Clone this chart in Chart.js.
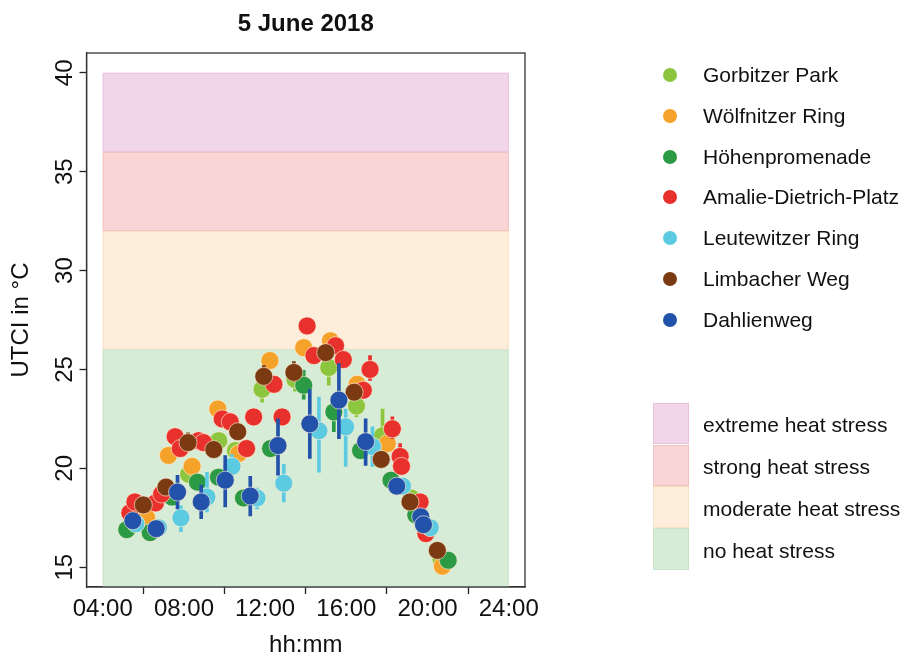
<!DOCTYPE html>
<html>
<head>
<meta charset="utf-8">
<title>UTCI 5 June 2018</title>
<script src="https://cdn.jsdelivr.net/npm/chart.js@4/dist/chart.umd.min.js"></script>
<style>
  html, body { margin: 0; padding: 0; background: #ffffff; }
  #wrap { position: relative; width: 909px; height: 660px; font-family: "Liberation Sans", Arial, Helvetica, sans-serif; color: #111; }
  #c { position: absolute; left: 0; top: 0; }
  .item { position: absolute; height: 24px; line-height: 24px; font-size: 21px; white-space: nowrap; }
  .dot { position: absolute; width: 14px; height: 14px; border-radius: 50%; }
  .swatch { position: absolute; box-sizing: border-box; }
</style>
</head>
<body>
<div id="wrap">
  <canvas id="c" width="909" height="660"></canvas>
  <div id="legend"></div>
</div>
<script>
// ---- data -------------------------------------------------------------
const chartTitle = '5 June 2018';
const xAxisTitle = 'hh:mm';
const yAxisTitle = 'UTCI in °C';

const xTickHours = [4, 8, 12, 16, 20, 24];
const xTickLabels = ['04:00', '08:00', '12:00', '16:00', '20:00', '24:00'];
const yTickValues = [15, 20, 25, 30, 35, 40];

// heat stress classes (UTCI thresholds)
const stressNames = ['extreme heat stress', 'strong heat stress', 'moderate heat stress', 'no heat stress'];
const stressLower = [36, 32, 26, 14];
const stressUpper = [40, 36, 32, 26];

const seriesNames = ['Gorbitzer Park', 'Wölfnitzer Ring', 'Höhenpromenade', 'Amalie-Dietrich-Platz',
                     'Leutewitzer Ring', 'Limbacher Weg', 'Dahlienweg'];

const gorbitzerTimes = ['05:15', '06:22', '07:18', '08:14', '09:43', '10:32', '11:51', '13:28', '15:08', '16:30', '17:47', '19:12', '20:40'];
const gorbitzerUTCI  = [16.95, 17.1, 18.7, 19.7, 21.4, 20.9, 24.0, 24.5, 25.1, 23.15, 21.65, 18.5, 15.4];
const gorbitzerLow   = [null, null, null, null, null, null, 23.35, 23.9, 24.2, 22.6, 21.2, null, null];
const gorbitzerHigh  = [null, null, null, null, null, null, 24.4, 25.0, 25.6, 23.6, 23.0, null, null];

const woelfnitzTimes = ['06:10', '07:14', '08:24', '09:40', '10:42', '12:14', '13:54', '15:13', '16:32', '18:01', '20:44'];
const woelfnitzUTCI  = [17.5, 20.65, 20.1, 23.0, 20.75, 25.45, 26.1, 26.45, 24.25, 21.25, 15.05];
const woelfnitzLow   = [null, null, null, null, null, null, null, null, null, null, null];
const woelfnitzHigh  = [null, null, null, null, null, null, null, null, null, null, null];

const hoehenTimes = ['05:11', '06:20', '07:25', '08:40', '09:42', '10:56', '12:16', '13:54', '15:23', '16:42', '18:12', '19:25', '21:01'];
const hoehenUTCI  = [16.9, 16.75, 18.55, 19.3, 19.55, 18.5, 21.0, 24.2, 22.85, 20.9, 19.4, 17.65, 15.35];
const hoehenLow   = [null, null, null, null, null, null, null, 23.5, 21.85, null, null, null, null];
const hoehenHigh  = [null, null, null, null, null, null, null, 24.95, 23.2, null, null, null, null];

const amalieTimes = ['05:20', '05:35', '06:36', '06:54', '07:34', '07:49', '08:43', '08:58', '09:53', '10:17', '11:05', '11:26', '12:26',
                     '12:50', '14:04', '14:24', '15:28', '15:51', '16:50', '17:10', '18:16', '18:39', '18:43', '19:38', '19:55'];
const amalieUTCI  = [17.75, 18.3, 18.25, 18.7, 21.6, 21.0, 21.4, 21.3, 22.5, 22.35, 21.0, 22.6, 24.25,
                     22.6, 27.2, 25.7, 26.2, 25.5, 23.95, 25.0, 22.0, 20.6, 20.1, 18.3, 16.7];
const amalieLow   = [null, null, null, null, null, null, null, null, null, null, null, null, null,
                     null, null, null, null, null, null, 24.45, 21.5, 20.1, null, null, null];
const amalieHigh  = [null, null, null, null, null, null, null, null, null, null, null, null, null,
                     null, null, null, null, null, null, 25.7, 22.6, 21.25, null, null, null];

const leutewitzTimes = ['05:38', '06:45', '07:51', '09:08', '10:22', '11:36', '12:55', '14:39', '15:58', '17:17', '18:46', '20:08'];
const leutewitzUTCI  = [17.2, 17.0, 17.5, 18.55, 20.1, 18.5, 19.25, 21.9, 22.1, 21.1, 19.1, 17.0];
const leutewitzLow   = [null, null, 16.8, 17.8, 19.6, 17.95, 18.3, 19.8, 20.1, 20.1, null, null];
const leutewitzHigh  = [null, null, 18.1, 19.8, 20.7, 19.0, 20.2, 23.6, 23.0, 22.1, null, null];

const limbachTimes = ['06:00', '07:07', '08:12', '09:28', '10:39', '11:56', '13:25', '14:59', '16:23', '17:43', '19:08', '20:29'];
const limbachUTCI  = [18.15, 19.05, 21.3, 20.95, 21.85, 24.65, 24.85, 25.85, 23.85, 20.45, 18.3, 15.85];
const limbachLow   = [null, null, 21.0, null, null, 24.2, 24.4, null, null, null, null, null];
const limbachHigh  = [null, null, 21.8, null, null, 25.2, 25.4, null, null, null, null, null];

const dahlienTimes = ['05:29', '06:38', '07:41', '08:51', '10:02', '11:16', '12:38', '14:12', '15:38', '16:57', '18:29', '19:40', '19:48'];
const dahlienUTCI  = [17.35, 16.95, 18.8, 18.3, 19.4, 18.6, 21.15, 22.25, 23.45, 21.35, 19.1, 17.55, 17.15];
const dahlienLow   = [null, null, 17.95, 17.45, 18.05, 17.6, 19.65, 20.5, 21.5, 20.15, null, null, null];
const dahlienHigh  = [null, null, 19.65, 19.15, 20.65, 19.6, 22.5, 24.0, 25.3, 22.5, null, null, null];

// ---- styling ----------------------------------------------------------
const FONT = '"Liberation Sans", Arial, Helvetica, sans-serif';
const seriesColors = ['#8cc63e', '#f5a22a', '#2b9a45', '#e8312c', '#5ccbe2', '#7b3a12', '#2352aa'];
const stressColors = ['#f1d6ea', '#f9d5d6', '#fdeedb', '#d6ecd7'];
const stressEdges  = ['#e7c1dc', '#f1c0c2', '#f7e0c4', '#c9e3cb'];

const seriesTable = [
  [gorbitzerTimes, gorbitzerUTCI, gorbitzerLow, gorbitzerHigh],
  [woelfnitzTimes, woelfnitzUTCI, woelfnitzLow, woelfnitzHigh],
  [hoehenTimes, hoehenUTCI, hoehenLow, hoehenHigh],
  [amalieTimes, amalieUTCI, amalieLow, amalieHigh],
  [leutewitzTimes, leutewitzUTCI, leutewitzLow, leutewitzHigh],
  [limbachTimes, limbachUTCI, limbachLow, limbachHigh],
  [dahlienTimes, dahlienUTCI, dahlienLow, dahlienHigh]
];

const toHours = t => { const p = t.split(':'); return Number(p[0]) + Number(p[1]) / 60; };

// each station: error bars first, then its points on top; later stations overlay earlier ones
const datasets = [];
seriesTable.forEach(([times, vals, lo, hi], i) => {
  const bars = [];
  times.forEach((t, k) => {
    if (lo[k] !== null && hi[k] !== null) bars.push({ x: toHours(t), y: [lo[k], hi[k]] });
  });
  if (bars.length) {
    datasets.push({
      type: 'bar',
      label: seriesNames[i] + ' range',
      data: bars,
      backgroundColor: seriesColors[i],
      borderWidth: 0,
      barThickness: 3,
      grouped: false,
      order: 100 - 2 * i
    });
  }
  datasets.push({
    type: 'scatter',
    label: seriesNames[i],
    data: times.map((t, k) => ({ x: toHours(t), y: vals[k] })),
    backgroundColor: seriesColors[i],
    pointBackgroundColor: seriesColors[i],
    pointBorderColor: 'rgba(255, 240, 212, 0.8)',
    pointBorderWidth: 0.8,
    pointRadius: 9,
    pointHoverRadius: 9,
    showLine: false,
    order: 99 - 2 * i
  });
});

// heat stress bands, plot frame and the texts drawn around the panel
const panelDecor = {
  id: 'panelDecor',
  beforeDatasetsDraw(chart) {
    const { ctx, chartArea: a, scales: { x, y } } = chart;
    ctx.save();
    ctx.beginPath();
    ctx.rect(a.left, a.top, a.right - a.left, a.bottom - a.top);
    ctx.clip();
    const x0 = x.getPixelForValue(xTickHours[0]);
    const x1 = x.getPixelForValue(xTickHours[xTickHours.length - 1]);
    stressNames.forEach((n, i) => {
      const yt = y.getPixelForValue(stressUpper[i]);
      const yb = y.getPixelForValue(stressLower[i]);
      ctx.fillStyle = stressColors[i];
      ctx.fillRect(x0, yt, x1 - x0, yb - yt);
      ctx.strokeStyle = stressEdges[i];
      ctx.lineWidth = 1;
      ctx.strokeRect(x0 + 0.5, yt + 0.5, x1 - x0 - 1, yb - yt - 1);
    });
    ctx.restore();

    ctx.save();
    ctx.strokeStyle = '#333';
    ctx.lineWidth = 1.3;
    ctx.strokeRect(a.left, a.top, a.right - a.left, a.bottom - a.top);
    ctx.restore();
  },
  afterDraw(chart) {
    const { ctx, chartArea: a, scales: { y } } = chart;
    ctx.save();
    ctx.fillStyle = '#111';
    // y tick labels, rotated like the axis title
    ctx.font = '24px ' + FONT;
    ctx.textAlign = 'center';
    ctx.textBaseline = 'middle';
    yTickValues.forEach(v => {
      ctx.save();
      ctx.translate(65, y.getPixelForValue(v));
      ctx.rotate(-Math.PI / 2);
      ctx.fillText(String(v), 0, 0);
      ctx.restore();
    });
    // y axis title
    ctx.save();
    ctx.translate(21, (a.top + a.bottom) / 2);
    ctx.rotate(-Math.PI / 2);
    ctx.fillText(yAxisTitle, 0, 0);
    ctx.restore();
    // chart title
    ctx.font = 'bold 24px ' + FONT;
    ctx.textBaseline = 'alphabetic';
    ctx.fillText(chartTitle, (a.left + a.right) / 2, 30.5);
    ctx.restore();
  }
};

new Chart(document.getElementById('c'), {
  type: 'scatter',
  data: { datasets },
  options: {
    responsive: false,
    animation: false,
    events: [],
    layout: { padding: { left: 79.5, right: 384, top: 53, bottom: 0.4 } },
    plugins: { legend: { display: false }, tooltip: { enabled: false }, title: { display: false } },
    scales: {
      x: {
        type: 'linear',
        position: 'bottom',
        min: 3.2,
        max: 24.8,
        offset: false,
        afterBuildTicks: s => { s.ticks = xTickHours.map(v => ({ value: v })); },
        ticks: {
          autoSkip: false, maxRotation: 0, minRotation: 0, padding: 1,
          color: '#111', font: { family: FONT, size: 24 },
          callback: (v, i) => xTickLabels[i]
        },
        grid: { display: true, drawOnChartArea: false, drawTicks: true, tickLength: 7, tickColor: '#222', tickWidth: 1.3 },
        border: { display: true, color: '#333', width: 1.3 },
        title: { display: true, text: xAxisTitle, color: '#111', font: { family: FONT, size: 24 }, padding: { top: 6, bottom: 0 } }
      },
      y: {
        type: 'linear',
        position: 'left',
        min: 14,
        max: 41,
        afterBuildTicks: s => { s.ticks = yTickValues.map(v => ({ value: v })); },
        ticks: { display: false },
        grid: { display: true, drawOnChartArea: false, drawTicks: true, tickLength: 7, tickColor: '#222', tickWidth: 1.3 },
        border: { display: true, color: '#333', width: 1.3 }
      }
    }
  },
  plugins: [panelDecor]
});

// ---- legends ------------------------------------------------------------
const legend = document.getElementById('legend');
const seriesRowY = 75, seriesRowStep = 40.8;
seriesNames.forEach((name, i) => {
  const cy = seriesRowY + i * seriesRowStep;
  const dot = document.createElement('div');
  dot.className = 'dot';
  dot.style.left = (670 - 7) + 'px';
  dot.style.top = (cy - 7) + 'px';
  dot.style.background = seriesColors[i];
  legend.appendChild(dot);
  const lab = document.createElement('div');
  lab.className = 'item';
  lab.style.left = '703px';
  lab.style.top = (cy - 12) + 'px';
  lab.textContent = name;
  legend.appendChild(lab);
});
const stressTop = 402.7, stressStep = 41.8;
stressNames.forEach((name, i) => {
  const top = stressTop + i * stressStep;
  const sw = document.createElement('div');
  sw.className = 'swatch';
  sw.style.left = '653px';
  sw.style.top = top + 'px';
  sw.style.width = '36px';
  sw.style.height = stressStep + 'px';
  sw.style.background = stressColors[i];
  sw.style.border = '1px solid ' + stressEdges[i];
  legend.appendChild(sw);
  const lab = document.createElement('div');
  lab.className = 'item';
  lab.style.left = '703px';
  lab.style.top = (top + stressStep / 2 + 1.5 - 12) + 'px';
  lab.textContent = name;
  legend.appendChild(lab);
});
</script>
</body>
</html>
